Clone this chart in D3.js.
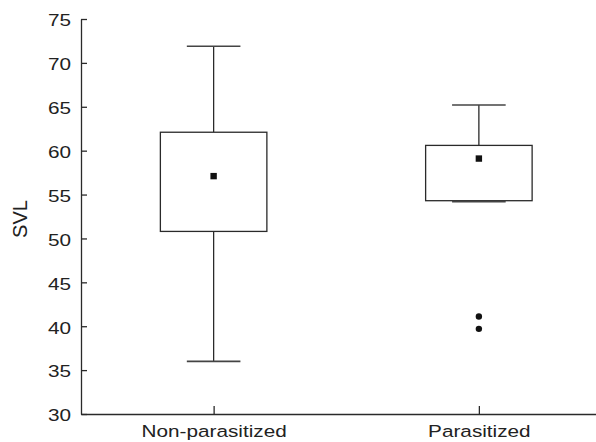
<!DOCTYPE html>
<html><head><meta charset="utf-8">
<script src="https://cdn.jsdelivr.net/npm/d3@7"></script>
<style>body{margin:0;background:#fff}svg{display:block}text{font-family:"Liberation Sans",Arial,sans-serif;fill:#222}</style>
</head><body><svg id="c" width="596" height="442"></svg>
<script>
const categories = ["Non-parasitized", "Parasitized"];
const whiskerLow  = [36.0, 54.2];
const q1          = [50.8, 54.3];
const median      = [57.1, 59.1];
const q3          = [62.1, 60.6];
const whiskerHigh = [71.9, 65.2];
const outliers    = [[], [41.1, 39.7]];
const yTicks = [30, 35, 40, 45, 50, 55, 60, 65, 70, 75];
const yLabel = "SVL";

(function () {
const svg = d3.select("#c");
const mLeft = 81, mTop = 19, mBottom = 414, rightEnd = 611.5;
const y = d3.scaleLinear().domain([30, 75]).range([mBottom, mTop]);
const x = d3.scalePoint().domain(categories).range([mLeft, rightEnd]).padding(0.5);
const boxW = 106.5, capW = 53.6;
const stroke = "#2a2a2a";
const fs = 17, sx = 1.22;

// y axis
const ya = svg.append("g").attr("transform", `translate(${mLeft},0)`)
  .call(d3.axisLeft(y).tickValues(yTicks).tickSizeInner(-6).tickSizeOuter(0));
ya.select(".domain").attr("stroke", stroke).attr("stroke-width", 1.3);
ya.selectAll(".tick line").attr("stroke", stroke).attr("stroke-width", 1.3);
ya.selectAll(".tick text").attr("font-size", fs).attr("fill", "#222")
  .attr("font-family", "'Liberation Sans', Arial, sans-serif")
  .attr("text-anchor", "end").attr("x", -10 / sx).attr("y", 0).attr("dy", "0.4em")
  .attr("transform", `scale(${sx},1)`);

// x axis
const xa = svg.append("g").attr("transform", `translate(0,${mBottom})`)
  .call(d3.axisBottom(x).tickSizeInner(-8).tickSizeOuter(0));
xa.select(".domain").attr("stroke", stroke).attr("stroke-width", 1.3);
xa.selectAll(".tick line").attr("stroke", stroke).attr("stroke-width", 1.3);
xa.selectAll(".tick text").attr("font-size", fs).attr("fill", "#222")
  .attr("font-family", "'Liberation Sans', Arial, sans-serif")
  .attr("y", 23).attr("dy", 0).attr("transform", `scale(${sx},1)`);

// y label
svg.append("text").attr("transform", `translate(26.5,${y(52.5) + 2.5}) rotate(-90) scale(1.18,1.22)`)
  .attr("text-anchor", "middle").attr("font-size", fs).text(yLabel);

categories.forEach((c, i) => {
  const cx = x(c);
  const g = svg.append("g");
  g.append("line").attr("x1", cx).attr("x2", cx).attr("y1", y(q3[i])).attr("y2", y(whiskerHigh[i]))
    .attr("stroke", stroke).attr("stroke-width", 1.3);
  g.append("line").attr("x1", cx).attr("x2", cx).attr("y1", y(q1[i])).attr("y2", y(whiskerLow[i]))
    .attr("stroke", stroke).attr("stroke-width", 1.3);
  g.append("rect").attr("x", cx - boxW / 2).attr("width", boxW)
    .attr("y", y(q3[i])).attr("height", y(q1[i]) - y(q3[i]))
    .attr("fill", "#fff").attr("stroke", stroke).attr("stroke-width", 1.3);
  [whiskerHigh[i], whiskerLow[i]].forEach(v => {
    g.append("line").attr("x1", cx - capW / 2).attr("x2", cx + capW / 2)
      .attr("y1", y(v)).attr("y2", y(v)).attr("stroke", "#444").attr("stroke-width", 1.6);
  });
  g.append("rect").attr("x", cx - 3.2).attr("y", y(median[i]) - 3.2).attr("width", 6.4).attr("height", 6.4)
    .attr("fill", "#111");
  outliers[i].forEach(v => {
    g.append("circle").attr("cx", cx).attr("cy", y(v)).attr("r", 3.2).attr("fill", "#111");
  });
});
})();
</script></body></html>
